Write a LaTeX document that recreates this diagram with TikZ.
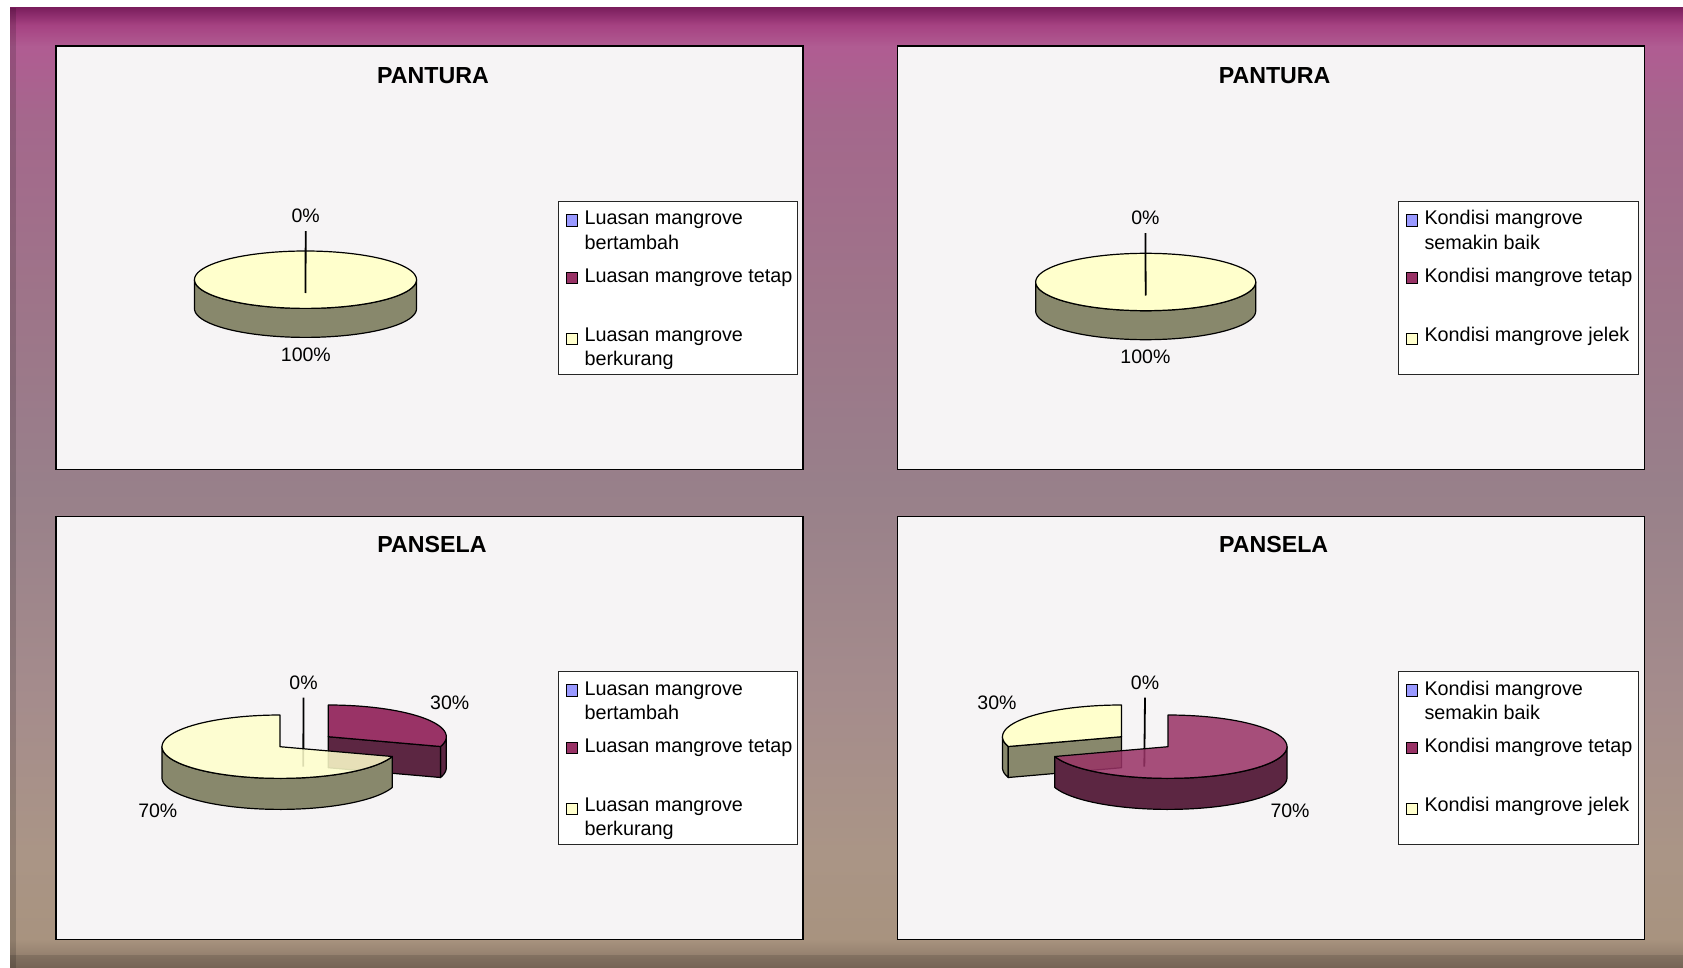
\documentclass[tikz,border=0pt]{standalone}
\usepackage{fontspec}
\setmainfont{Liberation Sans}
\definecolor{pieYel}{HTML}{FFFFCC}
\definecolor{pieOlive}{HTML}{88886C}
\definecolor{pieMag}{HTML}{993366}
\definecolor{pieMagDark}{HTML}{5C2642}
\definecolor{legBlue}{HTML}{9999FF}
\definecolor{panelFill}{HTML}{F6F4F5}
\definecolor{frA}{HTML}{857262}
\definecolor{frB}{HTML}{A8937F}
\definecolor{frC}{HTML}{AA9586}
\definecolor{frD}{HTML}{A58C8C}
\definecolor{frE}{HTML}{98808A}
\definecolor{frF}{HTML}{9E7489}
\definecolor{frG}{HTML}{A4688C}
\definecolor{frH}{HTML}{B05C92}
\definecolor{frI}{HTML}{A64282}
\definecolor{frJ}{HTML}{7C1F5E}
\pgfdeclareverticalshading{framefill}{100bp}{%
  color(0bp)=(frA); color(25bp)=(frA); color(26.5bp)=(frB); color(31bp)=(frC);
  color(39bp)=(frD); color(50bp)=(frE); color(60bp)=(frF); color(69bp)=(frG);
  color(73bp)=(frH); color(74.1bp)=(frI); color(75bp)=(frJ); color(100bp)=(frJ)}

% top face of a slice between angles #6 and #7 (degrees, counter-clockwise)
\newcommand\pietop[7][]{%
  \filldraw[pieedge,#1] (#2,#3) -- plot[domain=#6:#7,samples=80]
    ({#2+#4*cos(\x)},{#3-#5*sin(\x)}) -- cycle;}
% top face of a whole pie
\newcommand\piedisc[5][]{%
  \filldraw[pieedge,#1] plot[domain=0:360,samples=120]
    ({#2+#4*cos(\x)},{#3-#5*sin(\x)}) -- cycle;}
% outer wall of a slice between angles #7 and #8, depth #6
\newcommand\pierim[8][]{%
  \filldraw[pieedge,#1] plot[domain=#7:#8,samples=60] ({#2+#4*cos(\x)},{#3-#5*sin(\x)})
    -- plot[domain=#8:#7,samples=60] ({#2+#4*cos(\x)},{#3+#6-#5*sin(\x)}) -- cycle;}
% radial cut face at angle #7, depth #6
\newcommand\piecut[7][]{%
  \filldraw[pieedge,#1] (#2,#3) -- ({#2+#4*cos(#7)},{#3-#5*sin(#7)})
    -- ({#2+#4*cos(#7)},{#3+#6-#5*sin(#7)}) -- (#2,{#3+#6}) -- cycle;}

\begin{document}
\begin{tikzpicture}[x=1pt,y=-1pt,
  pieedge/.style={draw=black,line width=1.2pt,line join=round},
  panel/.style={fill=panelFill,draw=black,line width=1.6pt},
  legframe/.style={fill=white,draw=black!85,line width=0.9pt},
  legsq/.style={draw=black,line width=0.9pt,rectangle,minimum size=11.3pt,inner sep=0pt},
  legtext/.style={anchor=base west,inner sep=0pt,font=\fontsize{19.8}{23}\selectfont},
  charttitle/.style={inner sep=0pt,font=\bfseries\fontsize{23.2}{27}\selectfont},
  pct/.style={inner sep=0pt,font=\fontsize{19.5}{23}\selectfont},
  leader/.style={draw=black,line width=1.8pt}]
\useasboundingbox (0,0) rectangle (1683,968);

% frame behind the four charts
\shade[shading=framefill] (10,8) rectangle (1683,968);
\fill[black,opacity=0.15] (10,8) rectangle (16,968);
\fill[black,opacity=0.12] (10,955) rectangle (1683,968);

% chart panels
\draw[panel] (55.8,46.2) rectangle (802.8,469.3);
\draw[panel] (897.3,46.2) rectangle (1644.3,469.3);
\draw[panel] (55.8,516.3) rectangle (802.8,939.3);
\draw[panel] (897.3,516.3) rectangle (1644.3,939.3);

% titles
\node[charttitle] (t1) at (433,75.7) {PANTURA};
\node[charttitle] (t2) at (1274.6,75.7) {PANTURA};
\node[charttitle] (t3) at (432,545) {PANSELA};
\node[charttitle] (t4) at (1273.6,545) {PANSELA};

% ---- top-left pie: 100% berkurang
\pierim[fill=pieOlive]{305.5}{279.7}{111}{28.7}{29}{180}{360}
\piedisc[fill=pieYel]{305.5}{279.7}{111}{28.7}
\node[pct] (p1a) at (305.7,216) {0\%};
\node[pct] (p1b) at (305.9,355) {100\%};
\coordinate (p1end) at (305.5,293);
\draw[leader] ([yshift=-8pt]p1a.south) -- (p1end);

% ---- top-right pie: 100% jelek
\pierim[fill=pieOlive]{1145.7}{282}{110}{28.7}{29}{180}{360}
\piedisc[fill=pieYel]{1145.7}{282}{110}{28.7}
\node[pct] (p2a) at (1145.4,218) {0\%};
\node[pct] (p2b) at (1145.4,356.5) {100\%};
\coordinate (p2end) at (1145.7,295.5);
\draw[leader] ([yshift=-8pt]p2a.south) -- (p2end);

% ---- bottom-left pie: 30% tetap, 70% berkurang
\pierim[fill=pieMagDark]{328.3}{736.7}{118}{31.7}{31}{-18}{0}
\piecut[fill=pieMagDark]{328.3}{736.7}{118}{31.7}{31}{-18}
\pietop[fill=pieMag]{328.3}{736.7}{118}{31.7}{-18}{90}
\node[pct] (p3a) at (303.5,682.6) {0\%};
\coordinate (p3end) at (303.3,766.7);
\draw[leader] ([yshift=-8pt]p3a.south) -- (p3end);
\pierim[fill=pieOlive]{280}{746.7}{118}{31.7}{31}{180}{342}
\pietop[fill=pieYel,fill opacity=0.86]{280}{746.7}{118}{31.7}{90}{342}
\node[pct] (p3b) at (449.7,703) {30\%};
\node[pct] (p3c) at (157.8,810.5) {70\%};

% ---- bottom-right pie: 70% tetap, 30% jelek
\pierim[fill=pieOlive]{1121.5}{736.7}{119}{31.7}{31}{180}{198}
\piecut[fill=pieOlive]{1121.5}{736.7}{119}{31.7}{31}{198}
\pietop[fill=pieYel]{1121.5}{736.7}{119}{31.7}{90}{198}
\node[pct] (p4a) at (1145,682.6) {0\%};
\coordinate (p4end) at (1144.3,766.7);
\draw[leader] ([yshift=-8pt]p4a.south) -- (p4end);
\pierim[fill=pieMagDark]{1168}{746.7}{119}{31.7}{31}{198}{360}
\pietop[fill=pieMag,fill opacity=0.86]{1168}{746.7}{119}{31.7}{198}{450}
\node[pct] (p4b) at (997,703) {30\%};
\node[pct] (p4c) at (1290,810.5) {70\%};

% ---- legends
\begin{scope}[shift={(558.3,201)}]
  \draw[legframe] (0,0) rectangle (239.3,173.3);
  \node[legsq,fill=legBlue] (l1s1) at (13.35,19.5) {};
  \node[legsq,fill=pieMag] (l1s2) at (13.35,76.8) {};
  \node[legsq,fill=pieYel] (l1s3) at (13.35,137.8) {};
  \node[legtext] (l1a) at (26,24) {Luasan mangrove};
  \node[legtext] (l1b) at (26,48.5) {bertambah};
  \node[legtext] (l1c) at (26,81.3) {Luasan mangrove tetap};
  \node[legtext] (l1d) at (26,140.5) {Luasan mangrove};
  \node[legtext] (l1e) at (26,164) {berkurang};
\end{scope}
\begin{scope}[shift={(1398.3,201)}]
  \draw[legframe] (0,0) rectangle (240,173.3);
  \node[legsq,fill=legBlue] (l2s1) at (13.35,19.5) {};
  \node[legsq,fill=pieMag] (l2s2) at (13.35,76.8) {};
  \node[legsq,fill=pieYel] (l2s3) at (13.35,137.8) {};
  \node[legtext] (l2a) at (26,24) {Kondisi mangrove};
  \node[legtext] (l2b) at (26,48.5) {semakin baik};
  \node[legtext] (l2c) at (26,81.3) {Kondisi mangrove tetap};
  \node[legtext] (l2d) at (26,140.5) {Kondisi mangrove jelek};
\end{scope}
\begin{scope}[shift={(558.3,671)}]
  \draw[legframe] (0,0) rectangle (239.3,173.3);
  \node[legsq,fill=legBlue] (l3s1) at (13.35,19.5) {};
  \node[legsq,fill=pieMag] (l3s2) at (13.35,76.8) {};
  \node[legsq,fill=pieYel] (l3s3) at (13.35,137.8) {};
  \node[legtext] (l3a) at (26,24) {Luasan mangrove};
  \node[legtext] (l3b) at (26,48.5) {bertambah};
  \node[legtext] (l3c) at (26,81.3) {Luasan mangrove tetap};
  \node[legtext] (l3d) at (26,140.5) {Luasan mangrove};
  \node[legtext] (l3e) at (26,164) {berkurang};
\end{scope}
\begin{scope}[shift={(1398.3,671)}]
  \draw[legframe] (0,0) rectangle (240,173.3);
  \node[legsq,fill=legBlue] (l4s1) at (13.35,19.5) {};
  \node[legsq,fill=pieMag] (l4s2) at (13.35,76.8) {};
  \node[legsq,fill=pieYel] (l4s3) at (13.35,137.8) {};
  \node[legtext] (l4a) at (26,24) {Kondisi mangrove};
  \node[legtext] (l4b) at (26,48.5) {semakin baik};
  \node[legtext] (l4c) at (26,81.3) {Kondisi mangrove tetap};
  \node[legtext] (l4d) at (26,140.5) {Kondisi mangrove jelek};
\end{scope}
\end{tikzpicture}
\end{document}
